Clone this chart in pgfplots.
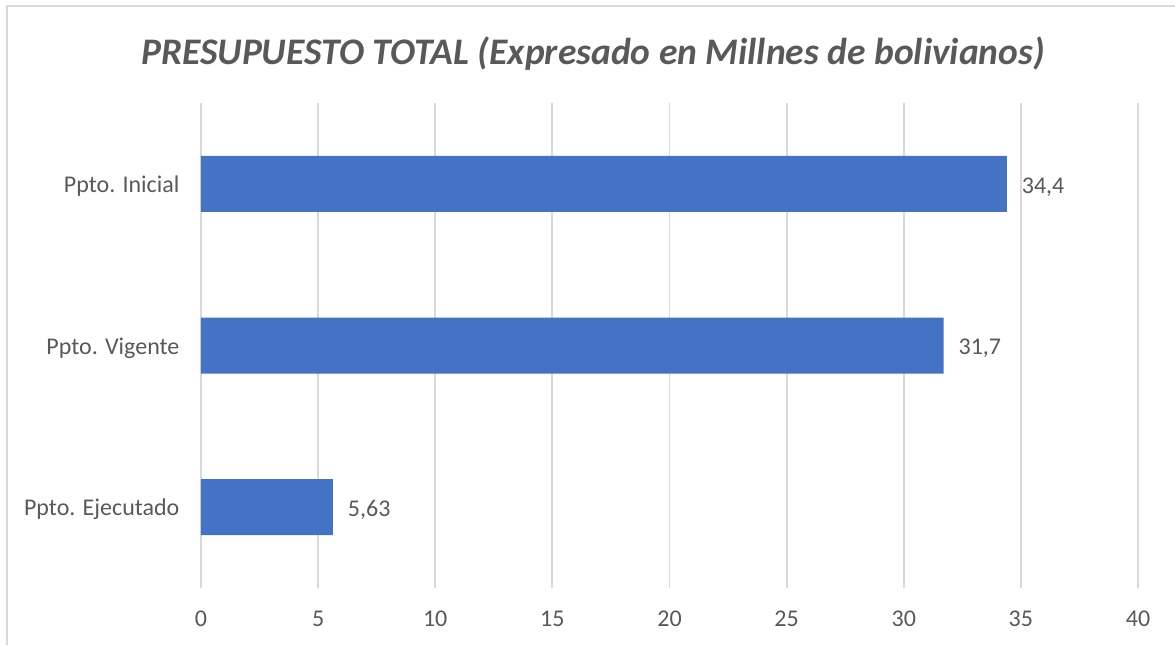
\documentclass[border=0pt]{standalone}
\usepackage{fontspec}
\setmainfont{Carlito}
\usepackage{pgfplots}
\pgfplotsset{compat=1.18}
\definecolor{barblue}{HTML}{4472C4}
\definecolor{gridgray}{HTML}{D9D9D9}
\definecolor{txtgray}{HTML}{595959}
\begin{document}
\begin{tikzpicture}
\useasboundingbox (-100.5pt,-30pt) rectangle (487pt,292.5pt);
\draw[gridgray, line width=0.9pt] (-97pt,-30pt) -- (-97pt,289.5pt) -- (487pt,289.5pt);
\begin{axis}[
  at={(0,-1.5pt)}, anchor=south west,
  scale only axis, width=468.5pt, height=242.5pt,
  xbar, bar width=28pt,
  xmin=0, xmax=40, ymin=-0.5, ymax=2.5,
  xtick={0,5,...,40}, ytick={0,1,2},
  yticklabels={Ppto. Ejecutado, Ppto. Vigente, Ppto. Inicial},
  axis line style={draw=none}, tick style={draw=none},
  xmajorgrids, major grid style={gridgray, line width=0.9pt},
  ticklabel style={font=\fontsize{12}{14}\selectfont, text=txtgray},
  /pgf/number format/assume math mode=true,
  xticklabel style={yshift=-8pt},
  yticklabel style={xshift=-3pt, yshift=-1.2pt},
  point meta=explicit symbolic,
  nodes near coords,
  nodes near coords style={font=\fontsize{12}{14}\selectfont, text=txtgray, anchor=west, xshift=4pt, yshift=-1.5pt},
  clip=false,
]
\addplot[fill=barblue, draw=none] table[x=x, y=y, meta=label] {
x y label
5.63 0 5,63
31.7 1 31,7
34.4 2 34,4
};
\end{axis}
\node[text=txtgray, font=\fontsize{18.75}{22}\selectfont\bfseries\itshape] at (196pt,265.5pt) {PRESUPUESTO TOTAL (Expresado en Millnes de bolivianos)};
\end{tikzpicture}
\end{document}
